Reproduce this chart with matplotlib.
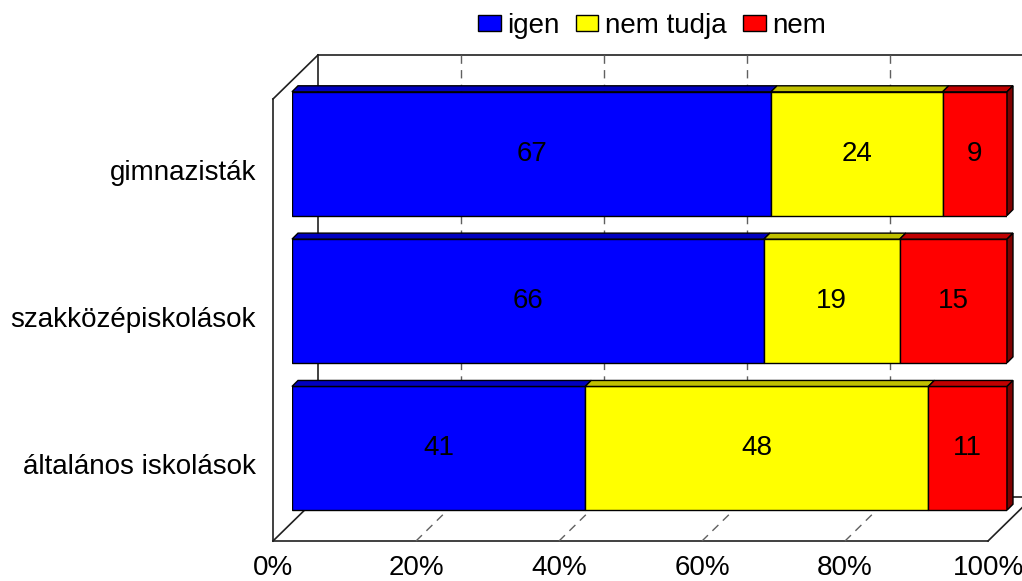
import matplotlib.pyplot as plt
import matplotlib.transforms as mtransforms
from matplotlib.patches import Patch, Polygon
import numpy as np

plt.rcParams['font.family'] = ['Liberation Sans', 'DejaVu Sans']

# data
categories = ['gimnazisták', 'szakközépiskolások', 'általános iskolások']
igen = [67, 66, 41]
nem_tudja = [24, 19, 48]
nem = [9, 15, 11]
series_names = ['igen', 'nem tudja', 'nem']
tick_values = [0, 20, 40, 60, 80, 100]
tick_labels = ['0%', '20%', '40%', '60%', '80%', '100%']

colors = ['#0000ff', '#ffff00', '#ff0000']
top_colors = ['#0000c0', '#c0c000', '#c00000']
side_color = '#800000'
fs = 20

W, H = 1022, 581
fig = plt.figure(figsize=(W / 100, H / 100), dpi=100)
ax = fig.add_axes([292 / W, (H - 522) / H, 715 / W, 442 / H])
ax.set_xlim(0, 100)
ax.set_ylim(len(categories) - 0.5, -0.5)
ax.axis('off')


def shifted(dx, dy):
    return mtransforms.offset_copy(ax.transData, fig=fig, x=dx, y=dy, units='dots')


front = shifted(-19, -19)
back = shifted(26, 25)
ident = mtransforms.IdentityTransform()
y_top, y_bot = -0.5, len(categories) - 0.5
depth = np.array([6, 6])
bar_h = 0.84


def disp(tr, x, y):
    return tr.transform((x, y))


def seg(p, q, **kw):
    ax.plot([p[0], q[0]], [p[1], q[1]], transform=ident, clip_on=False, **kw)


wall = dict(color='#202020', lw=1.2, zorder=1)
grid = dict(color='#606060', lw=1.0, ls=(0, (6, 4.5)), zorder=1)

# back wall
ax.plot([0, 100], [y_top, y_top], transform=back, clip_on=False, **wall)
ax.plot([0, 0], [y_top, y_bot], transform=back, clip_on=False, **wall)
ax.plot([100, 100], [y_top, y_bot], transform=back, clip_on=False, **wall)
ax.plot([0, 100], [y_bot, y_bot], transform=back, clip_on=False, **wall)
# left wall + floor
ax.plot([0, 0], [y_top, y_bot], transform=front, clip_on=False, **wall)
ax.plot([0, 100], [y_bot, y_bot], transform=front, clip_on=False, **wall)
seg(disp(front, 0, y_top), disp(back, 0, y_top), **wall)
seg(disp(front, 0, y_bot), disp(back, 0, y_bot), **wall)
seg(disp(front, 100, y_bot), disp(back, 100, y_bot), **wall)

# gridlines
for v in tick_values[1:-1]:
    ax.plot([v, v], [y_top, y_bot], transform=back, clip_on=False, **grid)
    seg(disp(front, v, y_bot), disp(back, v, y_bot), **grid)

# bars
for i in range(len(categories)):
    vals = [igen[i], nem_tudja[i], nem[i]]
    left = 0
    for j, val in enumerate(vals):
        ax.barh(i, val, left=left, height=bar_h, color=colors[j],
                edgecolor='black', lw=1.0, zorder=3)
        p0 = disp(ax.transData, left, i - bar_h / 2)
        p1 = disp(ax.transData, left + val, i - bar_h / 2)
        ax.add_patch(Polygon([p0, p1, p1 + depth, p0 + depth], closed=True,
                             transform=ident, facecolor=top_colors[j],
                             edgecolor='black', lw=1.0, zorder=3, clip_on=False))
        ax.text(left + val / 2, i, str(val), ha='center', va='center',
                fontsize=fs, zorder=4)
        left += val
    q0 = disp(ax.transData, left, i - bar_h / 2)
    q1 = disp(ax.transData, left, i + bar_h / 2)
    ax.add_patch(Polygon([q0, q1, q1 + depth, q0 + depth], closed=True,
                         transform=ident, facecolor=side_color,
                         edgecolor='black', lw=1.0, zorder=3, clip_on=False))

# axis labels
tick_tr = shifted(-19, -19 - 27)
for v, lab in zip(tick_values, tick_labels):
    ax.text(v, y_bot, lab, transform=tick_tr, ha='center', va='center',
            fontsize=fs, clip_on=False)
cat_tr = shifted(-19 - 17, -19)
for i, cat in enumerate(categories):
    ax.text(0, i, cat, transform=cat_tr, ha='right', va='center',
            fontsize=fs, clip_on=False)

handles = [Patch(facecolor=c, edgecolor='black', lw=1.0) for c in colors]
fig.legend(handles, series_names, loc='center', bbox_to_anchor=(652 / W, 1 - 26 / H),
           ncol=3, frameon=False, handlelength=0.8, handleheight=0.52,
           handletextpad=0.22, columnspacing=0.62, fontsize=fs,
           borderpad=0, borderaxespad=0)

fig.savefig('out.png', dpi=100)
